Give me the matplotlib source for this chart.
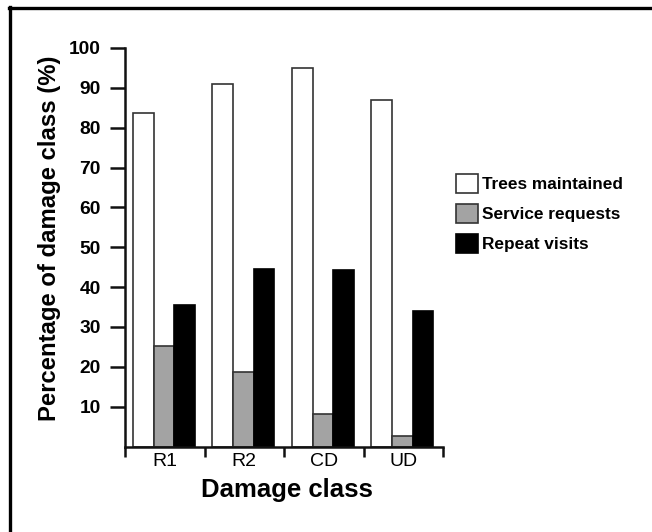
import matplotlib
matplotlib.use("Agg")
import matplotlib.pyplot as plt
from matplotlib.lines import Line2D
import numpy as np

categories = ["R1", "R2", "CD", "UD"]
series_names = ["Trees maintained", "Service requests", "Repeat visits"]
trees_maintained = [83.6, 91.0, 94.9, 86.9]
service_requests = [25.1, 18.8, 8.1, 2.7]
repeat_visits = [35.5, 44.5, 44.2, 33.9]
y_ticks = [10, 20, 30, 40, 50, 60, 70, 80, 90, 100]

W, H = 652, 532
fig = plt.figure(figsize=(W / 100, H / 100), dpi=100)
fig.patch.set_facecolor("white")
plt.rcParams["font.family"] = ["Liberation Sans", "DejaVu Sans"]

ax = fig.add_axes([125 / W, 1 - 446.5 / H, (443 - 125) / W, (446.5 - 48) / H])
x = np.arange(len(categories))
bw = 0.26
colors = ["white", "#a3a3a3", "black"]
edges = ["#333333", "#333333", "black"]
for i, (vals, c, ec, name) in enumerate(zip([trees_maintained, service_requests, repeat_visits],
                                             colors, edges, series_names)):
    ax.bar(x + (i - 1) * bw - 0.01, vals, width=bw, color=c, edgecolor=ec,
           linewidth=1.2, label=name, zorder=2)

ax.set_xlim(-0.5, len(categories) - 0.5)
ax.set_ylim(0, 100)
for s in ["top", "right"]:
    ax.spines[s].set_visible(False)
for s in ["left", "bottom"]:
    ax.spines[s].set_linewidth(1.8)
    ax.spines[s].set_color("#111111")

ax.set_yticks(y_ticks)
ax.set_yticklabels([str(t) for t in y_ticks], fontsize=13.8, fontweight="bold")
ax.tick_params(axis="y", direction="out", length=10.5, width=1.8, pad=7, color="#111111")

ax.set_xticks(np.arange(len(categories) + 1) - 0.5)
ax.set_xticklabels([])
ax.tick_params(axis="x", which="major", direction="out", length=7, width=1.8, color="#111111")
ax.set_xticks(x, minor=True)
ax.set_xticklabels(categories, minor=True, fontsize=14)
ax.tick_params(axis="x", which="minor", length=0, pad=5)

fig.text(50 / W, 1 - 238 / H, "Percentage of damage class (%)", rotation=90,
         ha="center", va="center", fontsize=17.2, fontweight="bold")
fig.text(287 / W, 1 - 490 / H, "Damage class", ha="center", va="center",
         fontsize=18.5, fontweight="bold")

leg = ax.legend(loc="upper left", bbox_to_anchor=(456 / W, 1 - 174 / H),
                bbox_transform=fig.transFigure, frameon=False, borderpad=0,
                borderaxespad=0, handlelength=1.3, handleheight=1.35,
                handletextpad=0.2, labelspacing=0.62,
                prop={"size": 12.4, "weight": "bold"})

# figure border (top and left heavy lines)
fig.add_artist(Line2D([8.5 / W, 1], [1 - 7.5 / H, 1 - 7.5 / H], transform=fig.transFigure,
                      color="black", linewidth=2.4))
fig.add_artist(Line2D([9.5 / W, 9.5 / W], [0, 1 - 6.5 / H], transform=fig.transFigure,
                      color="black", linewidth=2.4))

fig.savefig("out.png", dpi=100, facecolor="white")
